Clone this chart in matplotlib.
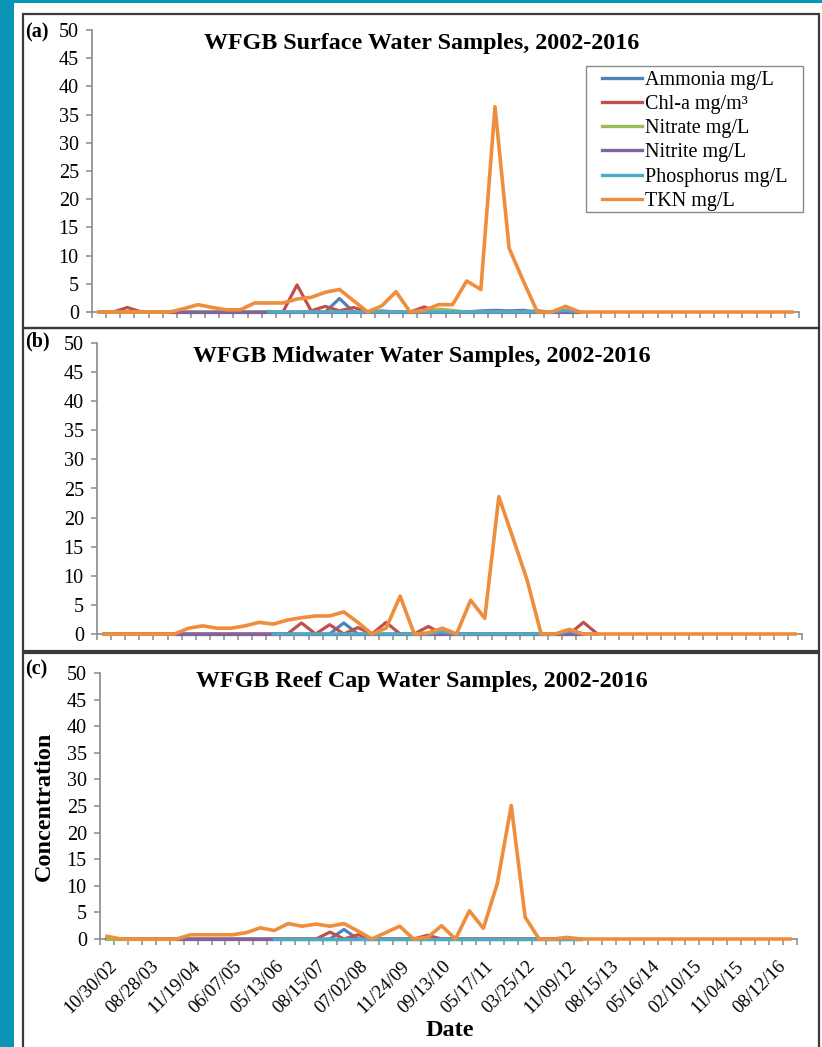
import numpy as np
import matplotlib
matplotlib.use("Agg")
import matplotlib.pyplot as plt
import matplotlib.transforms as mtransforms
from matplotlib.patches import Rectangle

plt.rcParams['font.family'] = ['Liberation Serif', 'DejaVu Serif']

W, H = 822, 1047
N = np.nan

# 50 sampling dates on a category axis, Excel shows every 3rd label
n_dates = 50
date_labels = ['10/30/02', '08/28/03', '11/19/04', '06/07/05', '05/13/06', '08/15/07',
               '07/02/08', '11/24/09', '09/13/10', '05/17/11', '03/25/12', '11/09/12',
               '08/15/13', '05/16/14', '02/10/15', '11/04/15', '08/12/16']
label_step = 3

series_names = ['Ammonia mg/L', 'Chl-a mg/m³', 'Nitrate mg/L', 'Nitrite mg/L',
                'Phosphorus mg/L', 'TKN mg/L']
colors = ['#4F81BD', '#C0504D', '#9BBB59', '#8064A2', '#4BACC6', '#EE8E3C']

# ---- (a) surface
surf_ammonia = [0, 0, 0, 0, 0, 0, 0, 0, 0, 0,
                0, 0, 0.1, 0, 0, 0, 0, 2.4, 0, 0,
                0.2, 0, 0, 0, 0, 0, 0, 0.2, 0.3, 0.2,
                0.3, 0, 0, 0, 0, N, N, N, N, N,
                N, N, N, N, N, N, N, N, N, N]
surf_chla = [0, 0, 0.8, 0, 0, 0, 0, 0, 0, 0,
             0, 0, 0, 0, 4.8, 0.2, 1.0, 0.2, 0.8, 0,
             0, 0, 0, 0.9, 0, 0, 0, 0, 0, 0,
             0, 0.2, 0, 0, 0, N, N, N, N, N,
             N, N, N, N, N, N, N, N, N, N]
surf_nitrate = [0, 0, 0, 0, 0, 0, 0, 0, 0, 0,
                0, 0, 0, 0, 0, 0, 0, 0, 0, 0,
                0, 0, 0, 0, 0.5, 0.3, 0, 0, 0, 0,
                0, 0, 0, 0, 0, N, N, N, N, N,
                N, N, N, N, N, N, N, N, N, N]
surf_nitrite = [N, N, N, N, N, 0, 0, 0, 0, 0,
                0, 0, 0, 0, 0, 0, 0, 0, 0, 0,
                0, 0, 0, 0, 0, 0, 0, 0, 0, 0,
                0, 0, 0, 0, 0, N, N, N, N, N,
                N, N, N, N, N, N, N, N, N, N]
surf_phos = [N, N, N, N, N, N, N, N, N, N,
             N, N, 0, 0, 0, 0, 0, 0, 0, 0,
             0, 0, 0, 0, 0, 0, 0, 0, 0, 0,
             0, 0, 0, 0.3, 0, N, N, N, N, N,
             N, N, N, N, N, N, N, N, N, N]
surf_tkn = [0, 0, 0, 0, 0, 0, 0.6, 1.3, 0.8, 0.4,
            0.4, 1.6, 1.6, 1.6, 2.3, 2.6, 3.5, 4.0, 2.0, 0,
            1.1, 3.6, 0, 0.3, 1.3, 1.3, 5.5, 4.0, 36.4, 11.3,
            5.5, 0, 0, 1.0, 0, 0, 0, 0, 0, 0,
            0, 0, 0, 0, 0, 0, 0, 0, 0, 0]

# ---- (b) midwater
mid_ammonia = [0, 0, 0, 0, 0, 0, 0, 0, 0, 0,
               0, 0, 0, 0, 0, 0, 0, 1.9, 0, 0,
               0, 0, 0, 0, 0, 0, 0, 0, 0, 0,
               0, 0, 0, 0, 0, N, N, N, N, N,
               N, N, N, N, N, N, N, N, N, N]
mid_chla = [0, 0, 0, 0, 0, 0, 0, 0, 0, 0,
            0, 0, 0, 0, 1.9, 0, 1.6, 0, 1.1, 0,
            2.0, 0, 0, 1.3, 0, 0, 0, 0, 0, 0,
            0, 0, 0, 0, 2.0, 0, N, N, N, N,
            N, N, N, N, N, N, N, N, N, N]
mid_nitrate = [0, 0, 0, 0, 0, 0, 0, 0, 0, 0,
               0, 0, 0, 0, 0, 0, 0, 0, 0, 0,
               0, 0, 0, 0, 0, 0, 0, 0, 0, 0,
               0, 0, 0, 0, 0, N, N, N, N, N,
               N, N, N, N, N, N, N, N, N, N]
mid_nitrite = [N, N, N, N, N, 0, 0, 0, 0, 0,
               0, 0, 0, 0, 0, 0, 0, 0, 0, 0,
               0, 0, 0, 0, 0, 0, 0, 0, 0, 0,
               0, 0, 0, 0, 0, N, N, N, N, N,
               N, N, N, N, N, N, N, N, N, N]
mid_phos = [N, N, N, N, N, N, N, N, N, N,
            N, N, 0, 0, 0, 0, 0, 0, 0, 0,
            0, 0, 0, 0, 0.4, 0, 0, 0, 0, 0,
            0, 0, 0, 0.5, 0, 0, N, N, N, N,
            N, N, N, N, N, N, N, N, N, N]
mid_tkn = [0, 0, 0, 0, 0, 0, 1.0, 1.4, 1.0, 1.0,
           1.4, 2.0, 1.7, 2.4, 2.8, 3.1, 3.1, 3.8, 2.0, 0,
           1.0, 6.5, 0, 0.2, 1.0, 0, 5.8, 2.7, 23.6, 16.5,
           9.3, 0, 0, 0.8, 0, 0, 0, 0, 0, 0,
           0, 0, 0, 0, 0, 0, 0, 0, 0, 0]

# ---- (c) reef cap
reef_ammonia = [0, 0, 0, 0, 0, 0, 0, 0, 0, 0,
                0, 0, 0, 0, 0, 0, 0, 1.8, 0, 0,
                0, 0, 0, 0, 0, 0, 0, 0, 0, 0,
                0, 0, 0, 0, 0, N, N, N, N, N,
                N, N, N, N, N, N, N, N, N, N]
reef_chla = [0, 0, 0, 0, 0, 0, 0, 0, 0, 0,
             0, 0, 0, 0, 0, 0, 1.3, 0, 0.8, 0,
             0, 0, 0, 0.7, 0, 0, 0, 0, 0, 0,
             0, 0, 0, 0, 0, N, N, N, N, N,
             N, N, N, N, N, N, N, N, N, N]
reef_nitrate = [0, 0, 0, 0, 0, 0, 0, 0, 0, 0,
                0, 0, 0, 0, 0, 0, 0, 0, 0, 0,
                0, 0, 0, 0, 0, 0, 0, 0, 0, 0,
                0, 0, 0, 0, 0, N, N, N, N, N,
                N, N, N, N, N, N, N, N, N, N]
reef_nitrite = [N, N, N, N, N, 0, 0, 0, 0, 0,
                0, 0, 0, 0, 0, 0, 0, 0, 0, 0,
                0, 0, 0, 0, 0, 0, 0, 0, 0, 0,
                0, 0, 0, 0, 0, N, N, N, N, N,
                N, N, N, N, N, N, N, N, N, N]
reef_phos = [N, N, N, N, N, N, N, N, N, N,
             N, N, 0, 0, 0, 0, 0, 0, 0, 0,
             0, 0, 0, 0, 0, 0, 0, 0, 0, 0,
             0, 0, 0, 0, 0, N, N, N, N, N,
             N, N, N, N, N, N, N, N, N, N]
reef_tkn = [0.5, 0, 0, 0, 0, 0, 0.8, 0.8, 0.8, 0.8,
            1.2, 2.1, 1.6, 2.9, 2.4, 2.8, 2.4, 2.9, 1.5, 0,
            1.2, 2.4, 0, 0.3, 2.5, 0, 5.3, 2.0, 10.4, 25.1,
            4.1, 0, 0, 0.3, 0, 0, 0, 0, 0, 0,
            0, 0, 0, 0, 0, 0, 0, 0, 0, 0]

panels = [
    ('(a)', 'WFGB Surface Water Samples, 2002-2016',
     [surf_ammonia, surf_chla, surf_nitrate, surf_nitrite, surf_phos, surf_tkn]),
    ('(b)', 'WFGB Midwater Water Samples, 2002-2016',
     [mid_ammonia, mid_chla, mid_nitrate, mid_nitrite, mid_phos, mid_tkn]),
    ('(c)', 'WFGB Reef Cap Water Samples, 2002-2016',
     [reef_ammonia, reef_chla, reef_nitrate, reef_nitrite, reef_phos, reef_tkn]),
]

# pixel layout: plot area (left, top, right, bottom), frame box (top, bottom), title y, tag y
plot_px = [(92, 30, 799, 312), (97, 343, 802, 634), (100, 673, 797, 939)]
frame_px = [(14, 328), (328, 651), (653, 1060)]
title_y = [43, 356, 682]
tag_y = [32, 341, 669]

fig = plt.figure(figsize=(W / 100, H / 100), dpi=100)
fig.patch.set_facecolor('#0794B5')
fig.patches.append(Rectangle((14 / W, 0), 1 - 14 / W, 1 - 3 / H,
                             transform=fig.transFigure, facecolor='white',
                             edgecolor='none', zorder=-2))

def fx(px):
    return px / W

def fy(py):
    return 1 - py / H

x = np.arange(n_dates)
axes = []
for k, (tag, title, data) in enumerate(panels):
    l, t, r, b = plot_px[k]
    ax = fig.add_axes([fx(l), fy(b), fx(r) - fx(l), fy(t) - fy(b)])
    ax.set_zorder(2)
    ax.set_facecolor('none')
    for j, vals in enumerate(data):
        ax.plot(x, vals, color=colors[j], lw=2.3 if j < 5 else 2.6,
                label=series_names[j], clip_on=False, zorder=3 + j)
    ax.set_xlim(-0.5, n_dates - 0.5)
    ax.set_ylim(0, 50)
    ax.set_yticks(np.arange(0, 51, 5))
    ax.set_xticks(np.arange(-0.5, n_dates, 1))
    ax.set_xticklabels([])
    for s in ['top', 'right']:
        ax.spines[s].set_visible(False)
    for s in ['left', 'bottom']:
        ax.spines[s].set_color('#8a8a8a')
        ax.spines[s].set_linewidth(1.2)
    ax.tick_params(axis='both', which='major', color='#8a8a8a', length=4.5,
                   width=1.1, labelsize=14.5, pad=4)
    ax.tick_params(axis='y', pad=5)

    # frame around each panel
    ft, fb = frame_px[k]
    fig.patches.append(Rectangle((fx(23), fy(fb)), fx(819) - fx(23), fy(ft) - fy(fb),
                                 transform=fig.transFigure, facecolor='none',
                                 edgecolor='#3a3a3a', lw=1.6, zorder=1))
    fig.text(fx(422), fy(title_y[k]), title, ha='center', va='center',
             fontsize=17.3, fontweight='bold')
    fig.text(fx(25), fy(tag_y[k]), tag, ha='left', va='center',
             fontsize=14.5, fontweight='bold')
    axes.append(ax)

# date labels on the bottom panel only
ax = axes[2]
label_pos = np.arange(0, n_dates, label_step)[:len(date_labels)]
ax.set_xticks(label_pos, minor=True)
ax.set_xticklabels(date_labels, minor=True, rotation=45, ha='right',
                   va='center', rotation_mode='anchor', fontsize=13.5)
ax.tick_params(axis='x', which='minor', length=0, pad=12)
shift = mtransforms.ScaledTranslation(7 / 100, -8 / 100, fig.dpi_scale_trans)
for lab in ax.get_xticklabels(minor=True):
    lab.set_transform(lab.get_transform() + shift)

fig.text(fx(44), fy(806), 'Concentration', rotation=90, ha='center', va='center',
         fontsize=17.5, fontweight='bold')
fig.text(fx(450), fy(1031), 'Date', ha='center', va='center',
         fontsize=17.5, fontweight='bold')

# legend: box drawn separately so the side padding can differ from the top
fig.patches.append(Rectangle((fx(586), fy(212)), fx(803) - fx(586), fy(66) - fy(212),
                             transform=fig.transFigure, facecolor='white',
                             edgecolor='#8a8a8a', lw=1.0, zorder=9))
handles, labels = axes[0].get_legend_handles_labels()
leg = fig.legend(handles, labels, loc='upper left',
                 bbox_to_anchor=(fx(602), fy(71)), bbox_transform=fig.transFigure,
                 fontsize=14.5, frameon=False, borderaxespad=0, borderpad=0,
                 handlelength=2.0, handletextpad=0.15, labelspacing=0.25)
leg.set_zorder(10)
for line in leg.get_lines():
    line.set_linewidth(2.4)

fig.savefig('out.png', dpi=100, facecolor=fig.get_facecolor())
